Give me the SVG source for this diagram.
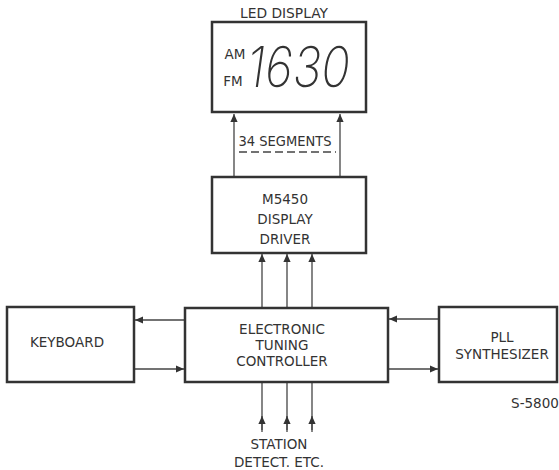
<svg xmlns="http://www.w3.org/2000/svg" width="559" height="470" viewBox="0 0 559 470">
<defs>
<style>
.box{fill:#fff;stroke:#333;stroke-width:2.5}
.ln{stroke:#444;stroke-width:1.3;fill:none}
.t{font-family:"DejaVu Sans","Liberation Sans",sans-serif;font-size:13.5px;fill:#333;text-anchor:middle}
.seg{font-family:Inter,"DejaVu Sans",sans-serif;font-weight:200;font-style:italic;font-size:56px;fill:#333}
</style>
<marker id="ah" viewBox="0 0 10 10" refX="10" refY="5" markerWidth="11" markerHeight="8" markerUnits="userSpaceOnUse" orient="auto">
<path d="M0,0.5 L10,5 L0,9.5 Z" fill="#333"/>
</marker>
</defs>
<rect width="559" height="470" fill="#fff"/>
<g id="connectors">
<line class="ln" x1="234" y1="177" x2="234" y2="114" marker-end="url(#ah)"/>
<line class="ln" x1="340" y1="177" x2="340" y2="114" marker-end="url(#ah)"/>
<line x1="239" y1="152" x2="336" y2="152" stroke="#444" stroke-width="1.3" stroke-dasharray="8,4"/>
<line class="ln" x1="262" y1="308" x2="262" y2="254" marker-end="url(#ah)"/>
<line class="ln" x1="287" y1="308" x2="287" y2="254" marker-end="url(#ah)"/>
<line class="ln" x1="312" y1="308" x2="312" y2="254" marker-end="url(#ah)"/>
<line class="ln" x1="185" y1="320" x2="135" y2="320" marker-end="url(#ah)"/>
<line class="ln" x1="134" y1="369" x2="184" y2="369" marker-end="url(#ah)"/>
<line class="ln" x1="439" y1="319" x2="389" y2="319" marker-end="url(#ah)"/>
<line class="ln" x1="388" y1="369" x2="438" y2="369" marker-end="url(#ah)"/>
<line class="ln" x1="262" y1="383" x2="262" y2="432"/>
<line class="ln" x1="287" y1="383" x2="287" y2="432"/>
<line class="ln" x1="312" y1="383" x2="312" y2="432"/>
<line class="ln" x1="262" y1="430" x2="262" y2="416" marker-end="url(#ah)"/>
<line class="ln" x1="287" y1="430" x2="287" y2="416" marker-end="url(#ah)"/>
<line class="ln" x1="312" y1="430" x2="312" y2="416" marker-end="url(#ah)"/>
<text class="t" x="285" y="146" font-size="14" textLength="93" lengthAdjust="spacingAndGlyphs">34 SEGMENTS</text>
</g>
<g id="led-display">
<text class="t" x="284" y="18" textLength="88" lengthAdjust="spacingAndGlyphs">LED DISPLAY</text>
<rect class="box" x="212" y="22" width="154" height="90"/>
<text class="t" x="235" y="59" font-size="11">AM</text>
<text class="t" x="233" y="86" font-size="11">FM</text>
<text class="seg" x="247" y="87" textLength="103" lengthAdjust="spacingAndGlyphs">1630</text>
</g>
<g id="display-driver">
<rect class="box" x="212" y="177" width="154" height="76"/>
<text class="t" x="285" y="204">M5450</text>
<text class="t" x="285" y="224">DISPLAY</text>
<text class="t" x="285" y="244">DRIVER</text>
</g>
<g id="controller">
<rect class="box" x="185" y="308" width="203" height="74"/>
<text class="t" x="282" y="334">ELECTRONIC</text>
<text class="t" x="282" y="350">TUNING</text>
<text class="t" x="282" y="366">CONTROLLER</text>
</g>
<g id="keyboard">
<rect class="box" x="7" y="307" width="127" height="75"/>
<text class="t" x="67" y="347">KEYBOARD</text>
</g>
<g id="pll">
<rect class="box" x="439" y="307" width="118" height="75"/>
<text class="t" x="502" y="342">PLL</text>
<text class="t" x="502" y="359">SYNTHESIZER</text>
</g>
<g id="station">
<text class="t" x="279" y="449">STATION</text>
<text class="t" x="279" y="467">DETECT. ETC.</text>
</g>
<text class="t" x="535" y="408" font-size="10">S-5800</text>
</svg>
